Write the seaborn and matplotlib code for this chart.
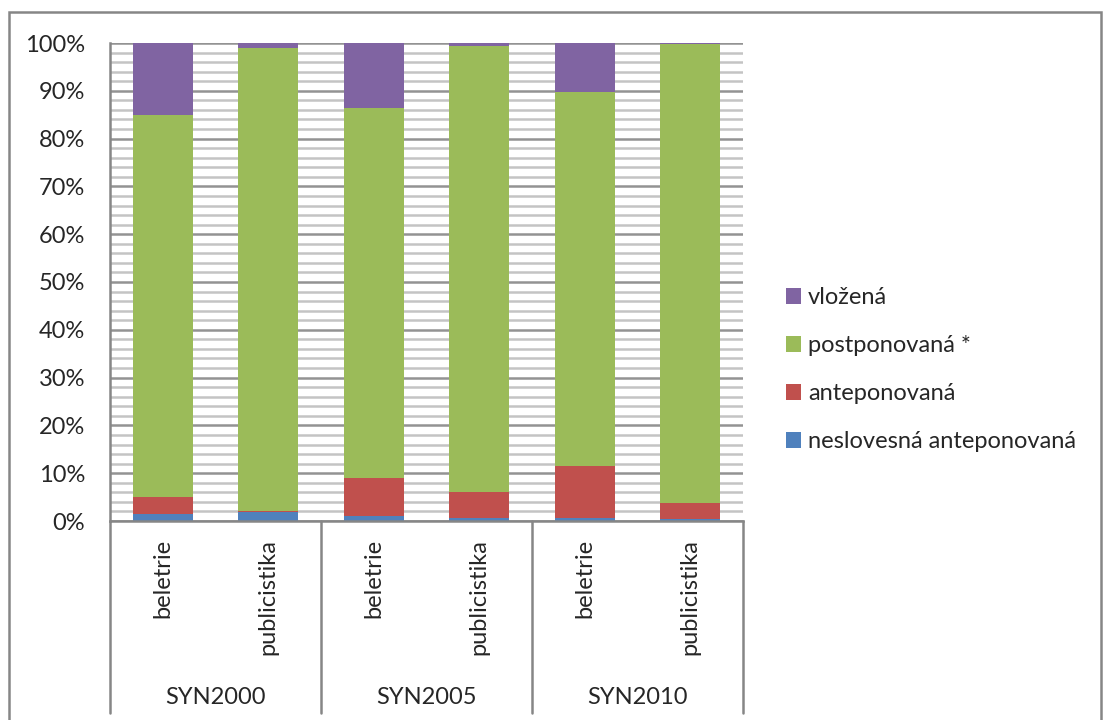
import numpy as np
import pandas as pd
import seaborn as sns
import matplotlib
matplotlib.use("Agg")
import matplotlib.pyplot as plt
from matplotlib.patches import Patch, Rectangle
import matplotlib.transforms as mtransforms

# ---- data (percent shares) ----
corpora = ["SYN2000", "SYN2005", "SYN2010"]
genres = ["beletrie", "publicistika"]
neslovesna = [1.5, 1.8, 1.0, 0.7, 0.7, 0.4]
anteponovana = [3.6, 0.3, 8.1, 5.4, 10.9, 3.3]
postponovana = [79.9, 96.9, 77.4, 93.3, 78.1, 96.0]
vlozena = [15.0, 1.05, 13.5, 0.6, 10.3, 0.25]
series_names = ["neslovesná anteponovaná", "anteponovaná", "postponovaná *", "vložená"]
colors = ["#4F81BD", "#C0504D", "#9BBB59", "#8064A2"]

sns.set_style("white")
plt.rcParams["font.family"] = ["Lato", "DejaVu Sans"]
FS = 17

bars = [f"{c} {g}" for c in corpora for g in genres]
df = pd.DataFrame({"bar": bars, series_names[0]: neslovesna, series_names[1]: anteponovana,
                   series_names[2]: postponovana, series_names[3]: vlozena})
vals = df[series_names].to_numpy(dtype=float)
vals = vals / vals.sum(axis=1, keepdims=True) * 100
cum = np.cumsum(vals, axis=1)
for i, n in enumerate(series_names):
    df["cum_" + n] = cum[:, i]

fig = plt.figure(figsize=(11.04, 7.2), dpi=100)
W, H = 1104, 720
x0, x1, ytop, ybot = 110, 743, 43, 521
ax = fig.add_axes([x0 / W, 1 - ybot / H, (x1 - x0) / W, (ybot - ytop) / H])

for i in range(len(series_names) - 1, -1, -1):
    n = series_names[i]
    sns.barplot(data=df, x="bar", y="cum_" + n, order=bars, color=colors[i],
                saturation=1, width=0.57, errorbar=None, ax=ax, zorder=2,
                linewidth=0, edgecolor="none")

ax.set_xlim(-0.5, len(bars) - 0.5)
ax.set_ylim(0, 100)
ax.set_yticks(np.arange(0, 101, 10))
ax.set_yticks(np.arange(0, 101, 2), minor=True)
ax.set_yticklabels([f"{v}%" for v in range(0, 101, 10)], fontsize=FS)
ax.grid(which="minor", axis="y", color="#c4c4c4", lw=1.8, zorder=0)
ax.grid(which="major", axis="y", color="#939393", lw=1.8, zorder=0)
ax.set_axisbelow(True)
ax.tick_params(axis="y", which="major", direction="out", length=5, width=1.5,
               color="#868686", pad=13)
ax.tick_params(axis="y", which="minor", length=0)
ax.set_xticks(range(len(bars)))
ax.set_xticklabels(genres * len(corpora), rotation=90, va="top", ha="center", fontsize=FS)
ax.tick_params(axis="x", length=0, pad=13)
ax.set_xlabel("")
ax.set_ylabel("")
for s in ["top", "right"]:
    ax.spines[s].set_visible(False)
for s in ["left", "bottom"]:
    ax.spines[s].set_color("#868686")
    ax.spines[s].set_linewidth(1.8)

# multi-level category axis: group separators and group labels
trans = mtransforms.blended_transform_factory(ax.transData, ax.transAxes)
ylow = -(713 - ybot) / (ybot - ytop)
for k in range(len(corpora) + 1):
    xs = -0.5 + 2 * k
    ax.plot([xs, xs], [0, ylow], transform=trans, color="#868686", lw=1.8,
            clip_on=False, zorder=3)
for k, c in enumerate(corpora):
    ax.text(0.5 + 2 * k, -(697 - ybot) / (ybot - ytop), c, transform=trans,
            ha="center", va="center", fontsize=FS)

# legend
handles = [Patch(facecolor=colors[i], edgecolor="none") for i in range(len(series_names) - 1, -1, -1)]
labels = [series_names[i] for i in range(len(series_names) - 1, -1, -1)]
fig.legend(handles, labels, loc="upper left", bbox_to_anchor=(786 / W, 1 - 287 / H),
           frameon=False, fontsize=FS, handlelength=0.64, handleheight=0.64,
           handletextpad=0.3, labelspacing=1.15, borderaxespad=0, borderpad=0)

# outer chart frame
fig.patches.append(Rectangle((9 / W, -0.01), (1101 - 9) / W, 1 - 12 / H + 0.01,
                             transform=fig.transFigure, fill=False,
                             edgecolor="#868686", lw=1.8))

fig.savefig("out.png", dpi=100)
